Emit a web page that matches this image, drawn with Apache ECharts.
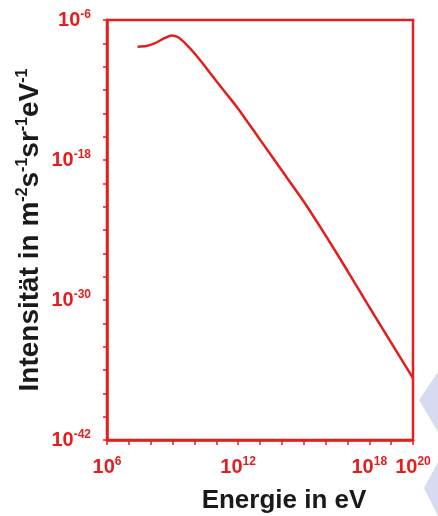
<!DOCTYPE html>
<html>
<head>
<meta charset="utf-8">
<script src="https://cdn.jsdelivr.net/npm/echarts@6/dist/echarts.min.js"></script>
<style>
  html, body { margin: 0; padding: 0; background: #ffffff; }
  #chart { width: 438px; height: 516px; }
</style>
</head>
<body>
<div id="chart"></div>
<script>
// Cosmic-ray energy spectrum: energy in eV, intensity in m^-2 s^-1 sr^-1 eV^-1
const energyEV = [2.5e7, 6.3e7, 1.6e8, 4.0e8, 8.9e8, 1.8e9, 4.0e9, 1e10, 3.2e10, 1e11, 3.2e11,
                  1e12, 1e13, 1e14, 1e15, 1e16, 1e17, 1e18, 1e19, 1e20];
const intensity = [5.2e-9, 6.0e-9, 1.05e-8, 2.6e-8, 4.7e-8, 3.3e-8, 8.9e-9, 1.4e-9, 9.5e-11, 6.0e-12, 3.8e-13,
                   2.5e-14, 5.6e-17, 1.26e-19, 2.8e-22, 3.5e-25, 3.2e-28, 2.5e-31, 2.2e-34, 2.0e-37];

// Axis ranges as decade exponents, and the decades that carry a tick label
const xRangeExponents = [6, 20];
const yRangeExponents = [-42, -6];
const xLabelExponents = [6, 12, 18, 20];
const yLabelExponents = [-6, -18, -30, -42];

const RED = '#e41e1e';
const INK = '#1a1a1a';
const FONT = '"Liberation Sans", Arial, sans-serif';

const powerLabelRich = {
  b: { fontSize: 20, fontWeight: 'bold', color: RED, fontFamily: FONT, lineHeight: 22 },
  s: { fontSize: 12, fontWeight: 'bold', color: RED, fontFamily: FONT, lineHeight: 22, verticalAlign: 'top' }
};

function powerText(e, list) {
  return list.indexOf(e) >= 0 ? '{b|10}{s|' + e + '}' : '';
}

const chart = echarts.init(document.getElementById('chart'), null, { renderer: 'canvas' });

chart.setOption({
  backgroundColor: '#ffffff',
  animation: false,
  graphic: [
    {
      type: 'polygon',
      silent: true,
      z: -10,
      shape: { points: [[438, 372], [419, 400], [438, 432]] },
      style: { fill: 'rgba(176, 182, 226, 0.5)' }
    },
    {
      type: 'polygon',
      silent: true,
      z: -10,
      shape: { points: [[438, 462], [424, 488], [438, 516]] },
      style: { fill: 'rgba(176, 182, 226, 0.5)' }
    }
  ],
  grid: {
    left: 107, right: 25, top: 20, bottom: 76,
    outerBoundsMode: 'none',
    containLabel: false,
    show: true,
    borderColor: RED,
    borderWidth: 2.5,
    backgroundColor: 'transparent'
  },
  xAxis: {
    type: 'log',
    logBase: 10,
    min: Math.pow(10, xRangeExponents[0]),
    max: Math.pow(10, xRangeExponents[1]),
    interval: 1,
    name: 'Energie in eV',
    nameLocation: 'middle',
    nameGap: 48,
    nameMoveOverlap: false,
    nameTextStyle: {
      fontSize: 26, fontWeight: 'bold', color: INK, fontFamily: FONT,
      padding: [0, 0, 0, 48]
    },
    axisLine: { show: true, lineStyle: { color: RED, width: 2.5 } },
    axisTick: { show: true, inside: false, length: 5, lineStyle: { color: RED, width: 1.5 } },
    splitLine: { show: false },
    axisLabel: {
      interval: 0,
      hideOverlap: false,
      showMinLabel: true,
      showMaxLabel: true,
      margin: 16,
      formatter: v => powerText(Math.round(Math.log10(v)), xLabelExponents),
      rich: powerLabelRich
    }
  },
  // Intensity spans 36 decades; it is plotted on a decade (log10) value scale.
  yAxis: {
    type: 'value',
    min: yRangeExponents[0],
    max: yRangeExponents[1],
    interval: 2,
    name: 'Intensität in m{s|-2}s{s|-1}sr{s|-1}eV{s|-1}',
    nameLocation: 'middle',
    nameGap: 62,
    nameRotate: 90,
    nameMoveOverlap: false,
    nameTextStyle: {
      fontSize: 28, fontWeight: 'bold', color: INK, fontFamily: FONT, lineHeight: 30,
      rich: {
        s: { fontSize: 16, fontWeight: 'bold', color: INK, fontFamily: FONT, lineHeight: 30, verticalAlign: 'top' }
      }
    },
    axisLine: { show: true, lineStyle: { color: RED, width: 2.5 } },
    axisTick: { show: true, inside: false, length: 4, lineStyle: { color: RED, width: 1.5 } },
    splitLine: { show: false },
    axisLabel: {
      interval: 0,
      hideOverlap: false,
      showMinLabel: true,
      showMaxLabel: true,
      margin: 16,
      formatter: v => powerText(Math.round(v), yLabelExponents),
      rich: powerLabelRich
    }
  },
  series: [{
    type: 'line',
    data: energyEV.map((e, i) => [e, Math.log10(intensity[i])]),
    smooth: 0.2,
    showSymbol: false,
    lineStyle: { color: RED, width: 2.5 },
    clip: true
  }]
});
</script>
</body>
</html>
